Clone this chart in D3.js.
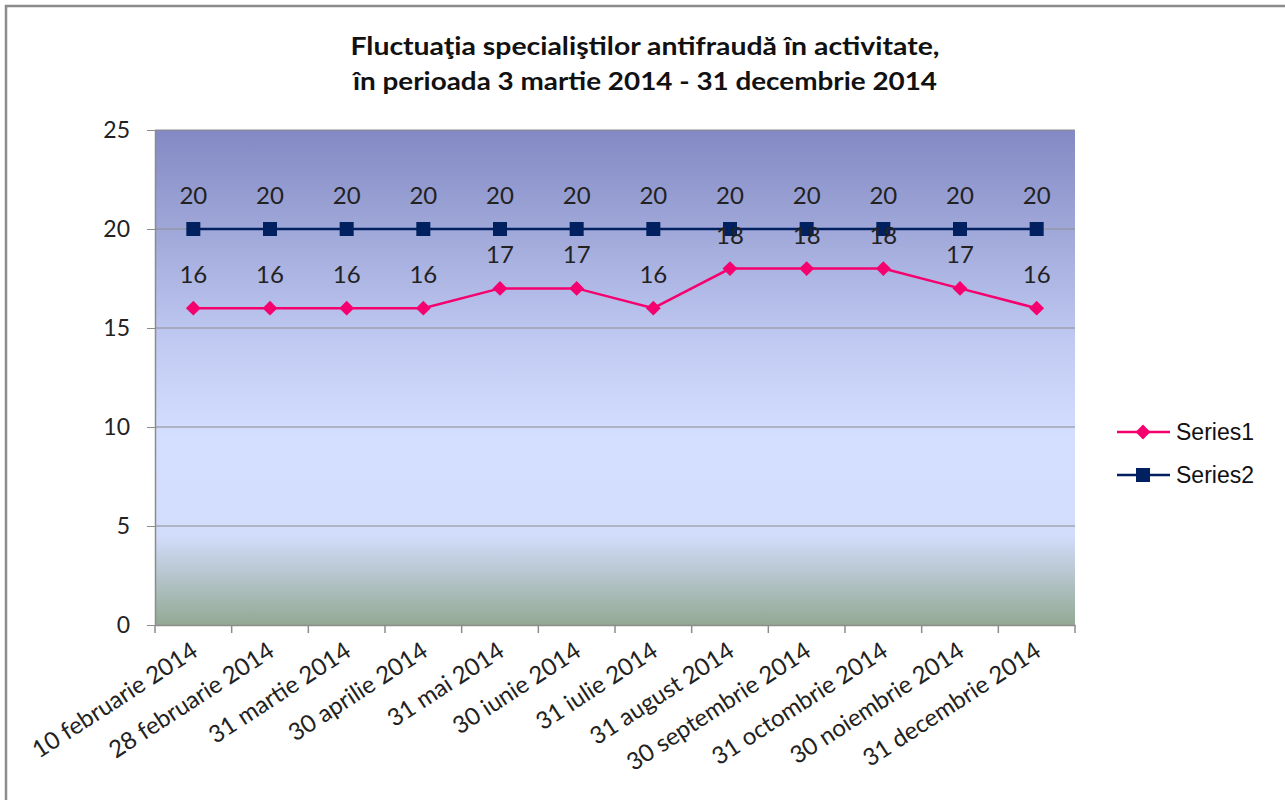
<!DOCTYPE html>
<html><head><meta charset="utf-8">
<script src="https://cdn.jsdelivr.net/npm/d3@7"></script>
<style>body{margin:0;background:#fff}svg{display:block}</style>
</head><body>
<script>
const categories = ["10 februarie 2014","28 februarie 2014","31 martie 2014","30 aprilie 2014","31 mai 2014","30 iunie 2014","31 iulie 2014","31 august 2014","30 septembrie 2014","31 octombrie 2014","30 noiembrie 2014","31 decembrie 2014"];
const series1 = [16,16,16,16,17,17,16,18,18,18,17,16];
const series2 = [20,20,20,20,20,20,20,20,20,20,20,20];
const seriesNames = ["Series1","Series2"];
const yTicks = [0,5,10,15,20,25];
const titleLines = ["Fluctuaţia specialiştilor antifraudă în activitate,","în perioada 3 martie 2014 - 31 decembrie 2014"];

const W=1285,H=800;
const svg=d3.select("body").append("svg").attr("width",W).attr("height",H);
const m={l:155,r:1075,t:130,b:625};
const x=d3.scaleBand().domain(categories).range([m.l,m.r]);
const y=d3.scaleLinear().domain([0,25]).range([m.b,m.t]);
const cx=d=>x(d)+x.bandwidth()/2;
const lf="Lato, 'Open Sans', sans-serif";

// outer border
svg.append("path").attr("d",`M6,${H} L6,6 L${W},6`).attr("fill","none").attr("stroke","#8c8c8c").attr("stroke-width",2.5);

const defs=svg.append("defs");
const g=defs.append("linearGradient").attr("id","bg").attr("x1",0).attr("y1",0).attr("x2",0).attr("y2",1);
[[0,"#8389c3"],[0.45,"#c3cdf4"],[0.62,"#d4deff"],[0.82,"#d2dcfb"],[1,"#93a993"]].forEach(s=>g.append("stop").attr("offset",s[0]).attr("stop-color",s[1]));
svg.append("rect").attr("x",m.l).attr("y",m.t).attr("width",m.r-m.l).attr("height",m.b-m.t).attr("fill","url(#bg)");

// gridlines
svg.append("g").selectAll("line").data(yTicks.filter(t=>t>0)).join("line")
 .attr("x1",m.l).attr("x2",m.r).attr("y1",d=>y(d)).attr("y2",d=>y(d)).attr("stroke","#8c8c8c").attr("stroke-width",1);

// y axis
const ya=svg.append("g").attr("transform",`translate(${m.l},0)`)
 .call(d3.axisLeft(y).tickValues(yTicks).tickSize(8).tickPadding(17).tickSizeOuter(0));
ya.select(".domain").attr("stroke","#8c8c8c").attr("stroke-width",1.5);
ya.selectAll(".tick line").attr("stroke","#8c8c8c");
ya.selectAll("text").attr("font-family",lf).attr("font-size",23).attr("fill","#222");

// x axis
const xa=svg.append("g").attr("transform",`translate(0,${m.b})`)
 .call(d3.axisBottom(x).tickSize(0).tickFormat(""));
xa.select(".domain").attr("stroke","#8c8c8c").attr("stroke-width",1.5);
svg.append("g").selectAll("line").data(d3.range(categories.length+1)).join("line")
 .attr("x1",i=>m.l+i*x.bandwidth()).attr("x2",i=>m.l+i*x.bandwidth())
 .attr("y1",m.b).attr("y2",m.b+8).attr("stroke","#8c8c8c").attr("stroke-width",1.5);
svg.append("g").selectAll("text").data(categories).join("text")
 .attr("transform",d=>`translate(${cx(d)+6},${m.b+30}) rotate(-33)`)
 .attr("text-anchor","end").attr("font-family",lf).attr("font-size",24).attr("fill","#222")
 .text(d=>d);

const line=d3.line().x((d,i)=>cx(categories[i])).y(d=>y(d));
const c1="#f5006e", c2="#00205f";
svg.append("path").datum(series2).attr("d",line).attr("fill","none").attr("stroke",c2).attr("stroke-width",2.5);
svg.append("path").datum(series1).attr("d",line).attr("fill","none").attr("stroke",c1).attr("stroke-width",2.5);

svg.append("g").selectAll("rect").data(series2).join("rect")
 .attr("x",(d,i)=>cx(categories[i])-7).attr("y",d=>y(d)-7).attr("width",14).attr("height",14).attr("fill",c2);
svg.append("g").selectAll("path").data(series1).join("path")
 .attr("transform",(d,i)=>`translate(${cx(categories[i])},${y(d)}) rotate(45)`).attr("d",d3.symbol().type(d3.symbolSquare).size(110)).attr("fill",c1);

// data labels
svg.append("g").selectAll("text").data(series2).join("text")
 .attr("x",(d,i)=>cx(categories[i])).attr("y",d=>y(d)-25).attr("text-anchor","middle")
 .attr("font-family",lf).attr("font-size",24).attr("fill","#222").text(d=>d);
svg.append("g").selectAll("text").data(series1).join("text")
 .attr("x",(d,i)=>cx(categories[i])).attr("y",d=>y(d)-25).attr("text-anchor","middle")
 .attr("font-family",lf).attr("font-size",24).attr("fill","#222").text(d=>d);

// title
const tw=[589,584];
svg.append("g").selectAll("text").data(titleLines).join("text")
 .attr("x",645).attr("y",(d,i)=>55+i*35).attr("text-anchor","middle")
 .attr("font-family",lf).attr("font-weight","bold").attr("font-size",25).attr("fill","#111")
 .attr("textLength",(d,i)=>tw[i]).attr("lengthAdjust","spacingAndGlyphs").text(d=>d);

// legend
const leg=svg.append("g");
[[seriesNames[0],c1,432,"d"],[seriesNames[1],c2,475,"s"]].forEach(([n,c,ly,t])=>{
 leg.append("line").attr("x1",1117).attr("x2",1170).attr("y1",ly).attr("y2",ly).attr("stroke",c).attr("stroke-width",2.5);
 if(t==="s") leg.append("rect").attr("x",1136).attr("y",ly-7).attr("width",14).attr("height",14).attr("fill",c);
 else leg.append("path").attr("transform",`translate(1143,${ly}) rotate(45)`).attr("d",d3.symbol().type(d3.symbolSquare).size(110)).attr("fill",c);
 leg.append("text").attr("x",1176).attr("y",ly+8).attr("font-family","'Liberation Sans', Arial, sans-serif").attr("font-size",23).attr("fill","#111").text(n);
});
</script>
</body></html>
